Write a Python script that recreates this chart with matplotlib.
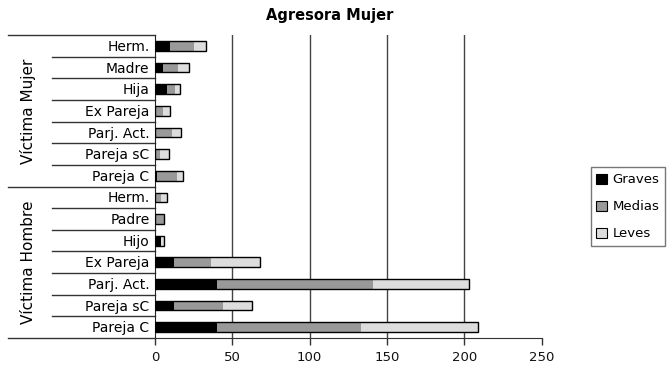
import numpy as np
import matplotlib
matplotlib.use("Agg")
import matplotlib.pyplot as plt
import matplotlib.transforms as mtransforms

plt.rcParams['font.family'] = ['DejaVu Sans']

# rows listed top to bottom
groups = ["Víctima Mujer", "Víctima Hombre"]
relaciones = ["Herm.", "Madre", "Hija", "Ex Pareja", "Parj. Act.", "Pareja sC", "Pareja C",
              "Herm.", "Padre", "Hijo", "Ex Pareja", "Parj. Act.", "Pareja sC", "Pareja C"]
group_sizes = [7, 7]

graves = [10, 5, 8, 0, 0, 0, 1, 0, 0, 4, 12, 40, 12, 40]
medias = [15, 10, 5, 5, 11, 3, 13, 4, 6, 0, 24, 101, 32, 93]
leves = [8, 7, 3, 5, 6, 6, 4, 4, 0, 2, 32, 62, 19, 76]

series = [("Graves", graves, "#000000"),
          ("Medias", medias, "#999999"),
          ("Leves", leves, "#dddddd")]

fig = plt.figure(figsize=(6.68, 3.66), dpi=100)
ax = fig.add_axes([0.232, 0.0765, 0.579, 0.8275])

n = len(relaciones)
y = np.arange(n)[::-1]
h = 0.45

left = np.zeros(n)
handles = []
for name, vals, col in series:
    vals = np.array(vals, dtype=float)
    ax.barh(y, vals, left=left, height=h, color=col, edgecolor="none", zorder=3)
    handles.append(plt.Rectangle((0, 0), 1, 1, facecolor=col, edgecolor="black", linewidth=0.8))
    left += vals
# outline around each stacked bar
ax.barh(y, left, height=h, fill=False, edgecolor="black", linewidth=1.0, zorder=4)

ax.set_ylim(-0.5, n - 0.5)
ax.set_xlim(0, 250)
ax.set_xticks([0, 50, 100, 150, 200, 250])
ax.tick_params(axis="x", direction="out", length=5, width=1, labelsize=9.5, pad=4,
               color="#333333", labelcolor="#111111")
ax.set_yticks([])
for x in [50, 100, 150, 200]:
    ax.axvline(x, color="#444444", linewidth=1, zorder=1)

for s in ["top", "right"]:
    ax.spines[s].set_visible(False)
ax.spines["left"].set_color("#222222")
ax.spines["bottom"].set_color("#333333")

# category table on the left
trans = mtransforms.blended_transform_factory(ax.transAxes, ax.transData)
x_lab = -0.266
x_grp = -0.38
for i, lab in enumerate(relaciones):
    ax.text(-0.014, y[i] - 0.05, lab, transform=trans, ha="right", va="center", fontsize=10)

start = 0
bounds = [n - 0.5]
for g, size in zip(groups, group_sizes):
    top = n - 0.5 - start
    bottom = top - size
    for k in range(1, size):
        ax.plot([x_lab, 0], [top - k, top - k], transform=trans, color="#333333",
                linewidth=1, clip_on=False)
    ax.text(-0.328, (top + bottom) / 2, g, transform=trans, rotation=90,
            ha="center", va="center", fontsize=11)
    bounds.append(bottom)
    start += size
for b in bounds:
    ax.plot([x_grp, 0], [b, b], transform=trans, color="#333333", linewidth=1, clip_on=False)

fig.text(0.494, 0.958, "Agresora Mujer", ha="center", va="center", fontsize=10.5, fontweight="bold")

leg = fig.legend(handles, [s[0] for s in series], loc="center left",
                 bbox_to_anchor=(0.884, 0.435), frameon=True, fancybox=False,
                 fontsize=9.5, handlelength=0.8, handleheight=0.8, handletextpad=0.4,
                 borderpad=0.45, labelspacing=1.05, borderaxespad=0)
leg.get_frame().set_edgecolor("#555555")
leg.get_frame().set_linewidth(1)

fig.savefig("out.png", dpi=100)
